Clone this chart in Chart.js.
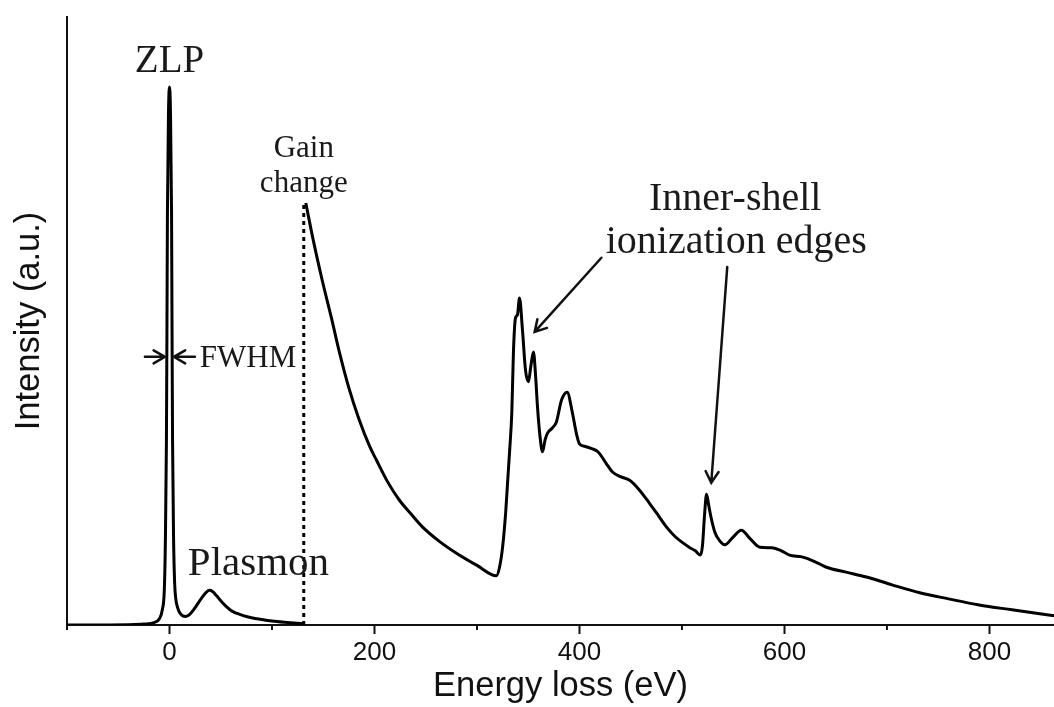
<!DOCTYPE html>
<html>
<head>
<meta charset="utf-8">
<script src="https://cdn.jsdelivr.net/npm/chart.js@4.4.0/dist/chart.umd.min.js"></script>
<style>
  html, body { margin: 0; padding: 0; background: #fff; }
  #wrap { width: 1054px; height: 707px; }
</style>
</head>
<body>
<div id="wrap"><canvas id="eels" width="1054" height="707"></canvas></div>
<script>
// low-loss part of the spectrum (ZLP + plasmon), energy in eV
const lowLossEnergy = [-100, -40, -25, -15, -10, -7, -5, -4, -3, -2.5, -2, -1, 0, 1, 2, 2.5, 3, 4, 5, 6, 8, 10, 13, 16, 20, 24, 28, 32, 36, 39, 42, 46, 50, 55, 60, 66, 72, 80, 90, 100, 112, 124, 131];
const lowLossIntensity = [0, 0.05, 0.15, 0.4, 1.0, 2.5, 6, 14, 30, 48, 68, 84, 88.5, 84, 68, 48, 30, 14, 7, 4.5, 2.8, 2.0, 1.5, 1.4, 1.8, 2.6, 3.6, 4.6, 5.4, 5.7, 5.5, 4.8, 4.0, 3.1, 2.4, 1.9, 1.55, 1.2, 0.9, 0.65, 0.45, 0.3, 0.25];

// core-loss part after the gain change
const coreLossEnergy = [133, 140, 149, 158, 166, 175, 185, 195, 202, 213, 224, 236, 247, 263, 280, 300, 319, 322, 325, 328, 330, 332, 334, 335.6, 337.6, 339.5, 341.5, 344.4, 347.3, 350.2, 352.5, 355.1, 357, 359, 361.5, 364, 366.5, 369, 373.5, 377.5, 382.5, 388, 393, 397, 400, 405, 412, 418, 426, 432, 440, 449, 458, 468, 477, 485, 493, 501, 507, 513, 518, 520, 522, 524, 526, 528, 532, 537, 542, 549, 558, 566, 576, 588, 597, 605, 617, 630, 641, 660, 680, 705, 732, 760, 790, 822, 863];
const coreLossIntensity = [69.4, 63.5, 56.7, 50.5, 44.7, 39.0, 33.8, 29.5, 27.1, 23.5, 20.6, 18.2, 16.1, 13.8, 11.8, 9.8, 8.1, 9.5, 12.8, 18.5, 23.8, 29, 35, 45, 50.5, 51, 53.8, 48.5, 42, 40, 42.5, 44.9, 41.5, 36, 31, 28.5, 30.5, 31.6, 32.4, 33.4, 37, 38.3, 35, 31.5, 29.8, 29.4, 29, 28.5, 26.6, 25.2, 24.4, 23.8, 22.3, 20.1, 18, 16.1, 14.6, 13.5, 12.8, 12.2, 11.5, 13, 18, 21.5, 19.8, 18, 15.3, 13.8, 13.2, 14.3, 15.6, 14.3, 12.8, 12.7, 12.2, 11.5, 11.2, 10.4, 9.5, 8.7, 7.9, 6.6, 5.3, 4.3, 3.3, 2.5, 1.5];

// dotted marker where the detector gain changes
const gainChangeEnergy = [131, 131];
const gainChangeIntensity = [0, 69.4];

const tickLabels = [0, 200, 400, 600, 800];
const minorTicks = [-100, 100, 300, 500, 700];

const toPoints = (xs, ys) => xs.map((x, i) => ({ x: x, y: ys[i] }));

const serif = "'Liberation Serif', 'Times New Roman', serif";
const sans = "'Liberation Sans', Arial, sans-serif";

// annotation texts, anchored in data units (x = eV, y = baseline intensity)
const notes = [
  { text: "ZLP", x: 0, y: 91.0, size: 39, align: "center" },
  { text: "Gain", x: 131, y: 77.0, size: 31, align: "center" },
  { text: "change", x: 131, y: 71.2, size: 31, align: "center" },
  { text: "FWHM", x: 29.6, y: 42.4, size: 31, align: "left" },
  { text: "Plasmon", x: 17.9, y: 8.2, size: 41, align: "left" },
  { text: "Inner-shell", x: 552, y: 68.3, size: 40, align: "center" },
  { text: "ionization edges", x: 553, y: 61.2, size: 40, align: "center" },
];

// arrows: [fromX, fromY, toX, toY] in data units
const arrows = [
  [-24, 44.1, -4.5, 44.1],
  [24.8, 44.1, 4.3, 44.1],
  [421.4, 60.4, 356.3, 48.2],
  [544.2, 58.9, 528.6, 23.4],
];

function drawArrow(ctx, x1, y1, x2, y2) {
  const ang = Math.atan2(y2 - y1, x2 - x1);
  const len = 13;
  const spread = Math.PI / 6;
  ctx.beginPath();
  ctx.moveTo(x1, y1);
  ctx.lineTo(x2, y2);
  ctx.moveTo(x2 - len * Math.cos(ang - spread), y2 - len * Math.sin(ang - spread));
  ctx.lineTo(x2, y2);
  ctx.lineTo(x2 - len * Math.cos(ang + spread), y2 - len * Math.sin(ang + spread));
  ctx.stroke();
}

const annotations = {
  id: "annotations",
  afterDraw(chart) {
    const ctx = chart.ctx;
    const xs = chart.scales.x;
    const ys = chart.scales.y;
    const bottom = chart.chartArea.bottom;
    ctx.save();

    // minor ticks
    ctx.strokeStyle = "#111";
    ctx.lineWidth = 2;
    minorTicks.forEach((v) => {
      const px = xs.getPixelForValue(v);
      ctx.beginPath();
      ctx.moveTo(px, bottom);
      ctx.lineTo(px, bottom + 5);
      ctx.stroke();
    });

    // labels
    ctx.fillStyle = "#1a1a1a";
    ctx.textBaseline = "alphabetic";
    notes.forEach((n) => {
      ctx.font = n.size + "px " + serif;
      ctx.textAlign = n.align;
      ctx.fillText(n.text, xs.getPixelForValue(n.x), ys.getPixelForValue(n.y));
    });

    // arrows
    ctx.strokeStyle = "#111";
    ctx.lineWidth = 2.5;
    ctx.lineCap = "round";
    arrows.forEach((a) => {
      drawArrow(
        ctx,
        xs.getPixelForValue(a[0]),
        ys.getPixelForValue(a[1]),
        xs.getPixelForValue(a[2]),
        ys.getPixelForValue(a[3])
      );
    });
    ctx.restore();
  },
};

const lineStyle = {
  borderColor: "#000",
  borderWidth: 3,
  pointRadius: 0,
  fill: false,
  cubicInterpolationMode: "monotone",
  borderJoinStyle: "round",
};

const config = {
  type: "line",
  data: {
    datasets: [
      { label: "Low loss", data: toPoints(lowLossEnergy, lowLossIntensity), ...lineStyle },
      { label: "Core loss", data: toPoints(coreLossEnergy, coreLossIntensity), ...lineStyle },
      {
        label: "Gain change",
        data: toPoints(gainChangeEnergy, gainChangeIntensity),
        borderColor: "#000",
        borderWidth: 3,
        borderDash: [4, 4],
        pointRadius: 0,
        fill: false,
      },
    ],
  },
  options: {
    responsive: false,
    animation: false,
    layout: { padding: { top: 17, right: 0, bottom: 0, left: 0 } },
    plugins: {
      legend: { display: false },
      tooltip: { enabled: false },
    },
    scales: {
      x: {
        type: "linear",
        min: -100,
        max: 863,
        afterFit: (scale) => {
          scale.height = 82;
        },
        border: { display: true, color: "#111", width: 2 },
        grid: {
          drawOnChartArea: false,
          drawTicks: true,
          tickLength: 9,
          tickWidth: 2,
          tickColor: (ctx) => (ctx.tick && tickLabels.includes(ctx.tick.value) ? "#111" : "rgba(0,0,0,0)"),
        },
        ticks: {
          stepSize: 100,
          includeBounds: false,
          autoSkip: false,
          maxRotation: 0,
          padding: 3,
          color: "#111",
          font: { family: sans, size: 26 },
          callback: (value) => (tickLabels.includes(value) ? value : ""),
        },
        title: {
          display: true,
          text: "Energy loss (eV)",
          color: "#111",
          font: { family: sans, size: 34.5 },
          padding: { top: 0, bottom: 0 },
        },
      },
      y: {
        min: 0,
        max: 100,
        afterFit: (scale) => {
          scale.width = 67;
        },
        border: { display: true, color: "#111", width: 2 },
        grid: { display: false },
        ticks: { display: false },
        title: {
          display: true,
          text: "Intensity (a.u.)",
          color: "#111",
          font: { family: sans, size: 34.5 },
          padding: { top: 9, bottom: 0 },
        },
      },
    },
  },
  plugins: [annotations],
};

const eelsChart = new Chart(document.getElementById("eels"), config);
</script>
</body>
</html>
